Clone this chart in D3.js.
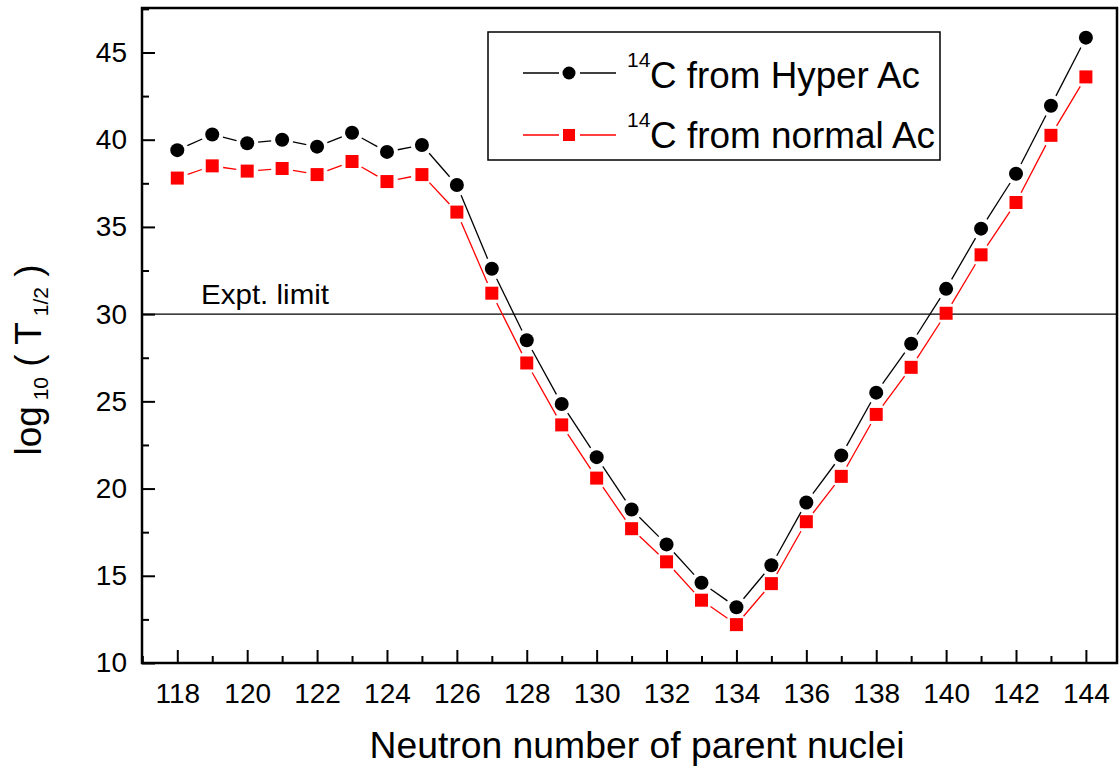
<!DOCTYPE html>
<html><head><meta charset="utf-8">
<script src="https://cdn.jsdelivr.net/npm/d3@7"></script>
<style>
html,body{margin:0;padding:0;background:#fff;}
text{font-family:"Liberation Sans",Arial,sans-serif;fill:#000;}
</style></head>
<body>
<svg id="chart" width="1120" height="767"></svg>
<script>
const neutrons = [118,119,120,121,122,123,124,125,126,127,128,129,130,131,132,133,134,135,136,137,138,139,140,141,142,143,144];
const hyperAc  = [39.4,40.3,39.8,40.0,39.6,40.4,39.3,39.7,37.4,32.6,28.5,24.85,21.8,18.8,16.8,14.6,13.2,15.6,19.2,21.9,25.5,28.3,31.45,34.9,38.05,41.95,45.85];
const normalAc = [37.8,38.5,38.2,38.35,38.0,38.75,37.6,38.0,35.85,31.2,27.2,23.65,20.6,17.7,15.8,13.6,12.2,14.55,18.1,20.7,24.25,26.95,30.05,33.4,36.4,40.25,43.6];
const xTicksMajor = [118,120,122,124,126,128,130,132,134,136,138,140,142,144];
const yTicksMajor = [10,15,20,25,30,35,40,45];
const exptLimit = 30;
const seriesNames = ["from Hyper Ac","from normal Ac"];

const svg = d3.select("#chart");
const L=142, R=1117, T=8, B=663;
const x = d3.scaleLinear().domain([116.99,144.89]).range([L,R]);
const y = d3.scaleLinear().domain([10,47.55]).range([B,T]);

// Expt limit line
svg.append("line").attr("x1",L).attr("x2",R).attr("y1",y(exptLimit)).attr("y2",y(exptLimit))
  .attr("stroke","#000").attr("stroke-width",1.2);
svg.append("text").attr("x",201).attr("y",304).attr("font-size",28).attr("textLength",128).attr("lengthAdjust","spacingAndGlyphs").text("Expt. limit");

// axes
const xMinor = d3.range(117,145,1);
const yMinor = d3.range(10,47.6,2.5);
const bottomAxis = d3.axisBottom(x).tickValues(xTicksMajor).tickSize(-13).tickPadding(20).tickFormat(d3.format("d"));
const gx = svg.append("g").attr("transform",`translate(0,${B})`).call(bottomAxis);
gx.selectAll(".tick line").attr("stroke-width",2);
gx.selectAll("text").attr("font-size",28).attr("font-family","Liberation Sans, Arial, sans-serif");
gx.select(".domain").remove();
svg.append("g").attr("transform",`translate(0,${B})`).call(d3.axisBottom(x).tickValues(xMinor.filter(d=>d%2===1)).tickSize(-7).tickFormat(""))
  .call(g=>{g.select(".domain").remove(); g.selectAll(".tick line").attr("stroke-width",2);});

const leftAxis = d3.axisLeft(y).tickValues(yTicksMajor).tickSize(-13).tickPadding(15).tickFormat(d3.format("d"));
const gy = svg.append("g").attr("transform",`translate(${L},0)`).call(leftAxis);
gy.selectAll(".tick line").attr("stroke-width",2);
gy.selectAll("text").attr("font-size",28).attr("font-family","Liberation Sans, Arial, sans-serif");
gy.select(".domain").remove();
svg.append("g").attr("transform",`translate(${L},0)`).call(d3.axisLeft(y).tickValues(yMinor.filter(d=>d%5!==0)).tickSize(-7).tickFormat(""))
  .call(g=>{g.select(".domain").remove(); g.selectAll(".tick line").attr("stroke-width",2);});

// frame
svg.append("rect").attr("x",L).attr("y",T).attr("width",R-L).attr("height",B-T)
  .attr("fill","none").attr("stroke","#000").attr("stroke-width",2.5);

// series
function drawSeries(vals,color,shape){
  const pts = neutrons.map((n,i)=>[x(n),y(vals[i])]);
  const gap = 11;
  const g = svg.append("g");
  for(let i=0;i<pts.length-1;i++){
    const [x1,y1]=pts[i],[x2,y2]=pts[i+1];
    const dx=x2-x1, dy=y2-y1, len=Math.hypot(dx,dy);
    if(len<=2*gap) continue;
    const ux=dx/len, uy=dy/len;
    g.append("line").attr("x1",x1+ux*gap).attr("y1",y1+uy*gap).attr("x2",x2-ux*gap).attr("y2",y2-uy*gap)
      .attr("stroke",color).attr("stroke-width",1.3);
  }
  pts.forEach(p=>{
    if(shape==="circle") g.append("circle").attr("cx",p[0]).attr("cy",p[1]).attr("r",7).attr("fill",color);
    else g.append("rect").attr("x",p[0]-6.5).attr("y",p[1]-6.5).attr("width",13).attr("height",13).attr("fill",color);
  });
}
drawSeries(normalAc,"#ff0000","square");
drawSeries(hyperAc,"#000000","circle");

// legend
svg.append("rect").attr("x",488).attr("y",32).attr("width",452).attr("height",128)
  .attr("fill","#fff").attr("stroke","#000").attr("stroke-width",1.5);
const legend = [{name:seriesNames[0],color:"#000",shape:"circle",cy:73,base:88,len:270},{name:seriesNames[1],color:"#ff0000",shape:"square",cy:135,base:148,len:285}];
legend.forEach(l=>{
  svg.append("line").attr("x1",523).attr("x2",559).attr("y1",l.cy).attr("y2",l.cy).attr("stroke",l.color).attr("stroke-width",1.3);
  svg.append("line").attr("x1",580).attr("x2",616).attr("y1",l.cy).attr("y2",l.cy).attr("stroke",l.color).attr("stroke-width",1.3);
  if(l.shape==="circle") svg.append("circle").attr("cx",569).attr("cy",l.cy).attr("r",6.5).attr("fill",l.color);
  else svg.append("rect").attr("x",563).attr("y",l.cy-6).attr("width",12).attr("height",12).attr("fill",l.color);
  svg.append("text").attr("x",627).attr("y",l.base-21).attr("font-size",21).text("14");
  svg.append("text").attr("x",650).attr("y",l.base).attr("font-size",36)
    .attr("textLength",l.len).attr("lengthAdjust","spacingAndGlyphs").text("C "+l.name);
});

// axis titles
svg.append("text").attr("x",637).attr("y",758).attr("text-anchor","middle").attr("font-size",36)
  .attr("textLength",535).attr("lengthAdjust","spacingAndGlyphs")
  .text("Neutron number of parent nuclei");
const yt = svg.append("text").attr("transform","translate(41,360) rotate(-90)").attr("text-anchor","middle").attr("font-size",37);
yt.append("tspan").text("log");
yt.append("tspan").attr("font-size",21).attr("dy",7).text(" 10");
yt.append("tspan").attr("dy",-7).text(" ( T");
yt.append("tspan").attr("font-size",21).attr("dy",7).text(" 1/2");
yt.append("tspan").attr("dy",-7).text(" )");
</script>
</body></html>
